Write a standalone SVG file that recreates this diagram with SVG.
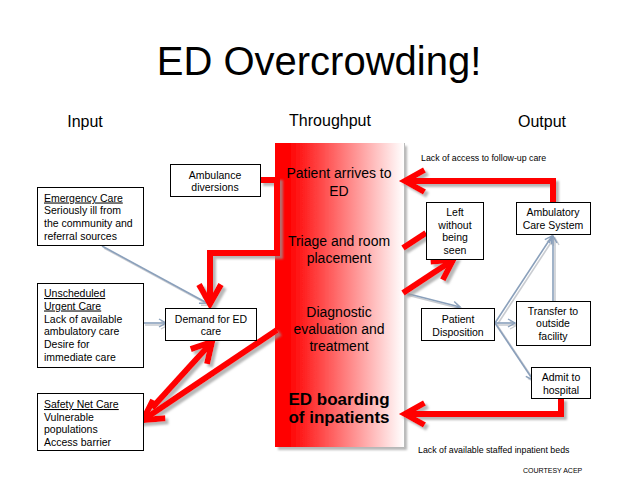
<svg xmlns="http://www.w3.org/2000/svg" width="638" height="479" viewBox="0 0 638 479">
<style>
text{font-family:"Liberation Sans",Arial,sans-serif;fill:#000}
.box rect{fill:#fff;stroke:#000;stroke-width:1}
.bt{font-size:10.5px}
.bc{font-size:10.5px;text-anchor:middle}
.hd{font-size:16px;text-anchor:middle}
.ct{font-size:14px;text-anchor:middle}
.cb{font-size:17px;font-weight:bold;text-anchor:middle}
.sm{font-size:8.8px}
.red{fill:none;stroke:#f00;stroke-width:6;stroke-linejoin:miter}
.blue{fill:none;stroke:#8aa0bb;stroke-width:1.6}
</style>
<defs>
<linearGradient id="grad" x1="0" y1="0" x2="1" y2="0">
<stop offset="0" stop-color="#ff0000"/>
<stop offset="0.12" stop-color="#ff0505"/>
<stop offset="1" stop-color="#ffffff"/>
</linearGradient>
<filter id="shR" x="-20%" y="-20%" width="140%" height="140%">
<feDropShadow dx="3" dy="3" stdDeviation="1" flood-color="#999" flood-opacity="0.7"/>
</filter>
<filter id="shB" x="-20%" y="-20%" width="140%" height="140%">
<feDropShadow dx="2" dy="2" stdDeviation="0.5" flood-color="#c9ccd1" flood-opacity="1"/>
</filter>
<marker id="rh" markerUnits="userSpaceOnUse" viewBox="-30 -20 40 40" markerWidth="40" markerHeight="40" refX="0" refY="0" orient="auto">
<path d="M-19.5,-11 L0,0 L-19.5,11" fill="none" stroke="#f00" stroke-width="6" stroke-linejoin="miter"/>
</marker>
<marker id="bh" markerUnits="userSpaceOnUse" viewBox="-12 -8 16 16" markerWidth="16" markerHeight="16" refX="0" refY="0" orient="auto">
<path d="M-7,-4 L0,0 L-7,4" fill="none" stroke="#8aa0bb" stroke-width="1.4"/>
</marker>
</defs>
<rect width="638" height="479" fill="#fff"/>
<text x="319" y="75" font-size="40" text-anchor="middle">ED Overcrowding!</text>
<text class="hd" x="85" y="127">Input</text>
<text class="hd" x="330" y="126">Throughput</text>
<text class="hd" x="542" y="127">Output</text>

<g id="throughput">
<rect x="275" y="143" width="129" height="304" fill="url(#grad)" filter="url(#shR)"/>
<line x1="404.5" y1="143" x2="404.5" y2="449" stroke="#bbb" stroke-width="1"/>
<text class="ct" x="339" y="178">Patient arrives to</text>
<text class="ct" x="339" y="196">ED</text>
<text class="ct" x="339" y="246">Triage and room</text>
<text class="ct" x="339" y="263">placement</text>
<text class="ct" x="339" y="317">Diagnostic</text>
<text class="ct" x="339" y="334">evaluation and</text>
<text class="ct" x="339" y="351">treatment</text>
<text class="cb" x="339" y="405">ED boarding</text>
<text class="cb" x="339" y="423">of inpatients</text>
</g>

<g id="connectors">
<g filter="url(#shB)">
<line class="blue" x1="102" y1="246" x2="207" y2="303" marker-end="url(#bh)"/>
<line class="blue" x1="143" y1="323" x2="166" y2="323" marker-end="url(#bh)"/>
<line class="blue" x1="405" y1="293" x2="460" y2="307" marker-end="url(#bh)"/>
<line class="blue" x1="495" y1="323" x2="552" y2="236" marker-end="url(#bh)"/>
<line class="blue" x1="495" y1="323" x2="515" y2="323" marker-end="url(#bh)"/>
<line class="blue" x1="495" y1="323" x2="533" y2="380" marker-end="url(#bh)"/>
<line class="blue" x1="553" y1="301" x2="553" y2="236" marker-end="url(#bh)"/>
</g>
<g filter="url(#shR)">
<polyline class="red" points="260,180 277,180 277,253 210,253 210,304" marker-end="url(#rh)"/>
<line class="red" x1="277" y1="330" x2="143" y2="420" marker-end="url(#rh)"/>
<line class="red" x1="152" y1="408" x2="212" y2="342" marker-end="url(#rh)"/>
<polyline class="red" points="553,202 553,181 405,181" marker-end="url(#rh)"/>
<polyline class="red" points="561,398 561,414 405,414" marker-end="url(#rh)"/>
<line class="red" x1="403" y1="248" x2="426" y2="233" stroke-width="5"/>
<line class="red" x1="403" y1="293" x2="453" y2="260" marker-end="url(#rh)"/>
</g>
</g>

<g id="ambulance" class="box">
<rect x="170.5" y="164.5" width="90" height="32"/>
<text class="bc" x="215" y="179">Ambulance</text>
<text class="bc" x="215" y="191">diversions</text>
</g>
<g id="emergency" class="box">
<rect x="37.5" y="187.5" width="106" height="58"/>
<text class="bt" x="44" y="201.5" text-decoration="underline">Emergency Care</text>
<text class="bt" x="44" y="214">Seriously ill from</text>
<text class="bt" x="44" y="227">the community and</text>
<text class="bt" x="44" y="240">referral sources</text>
</g>
<g id="unscheduled" class="box">
<rect x="37.5" y="283.5" width="106" height="84"/>
<text class="bt" x="44" y="297" text-decoration="underline">Unscheduled</text>
<text class="bt" x="44" y="309.5" text-decoration="underline">Urgent Care</text>
<text class="bt" x="44" y="322.5">Lack of available</text>
<text class="bt" x="44" y="335">ambulatory care</text>
<text class="bt" x="44" y="348">Desire for</text>
<text class="bt" x="44" y="361">immediate care</text>
</g>
<g id="safetynet" class="box">
<rect x="37.5" y="393.5" width="106" height="57"/>
<text class="bt" x="44" y="408" text-decoration="underline">Safety Net Care</text>
<text class="bt" x="44" y="420.5">Vulnerable</text>
<text class="bt" x="44" y="433">populations</text>
<text class="bt" x="44" y="446">Access barrier</text>
</g>
<g id="demand" class="box">
<rect x="165.5" y="308.5" width="91" height="32"/>
<text class="bc" x="211" y="323">Demand for ED</text>
<text class="bc" x="211" y="335">care</text>
</g>
<g id="lwbs" class="box">
<rect x="426.5" y="202.5" width="57" height="57"/>
<text class="bc" x="455" y="216">Left</text>
<text class="bc" x="455" y="228.5">without</text>
<text class="bc" x="455" y="241">being</text>
<text class="bc" x="455" y="253.5">seen</text>
</g>
<g id="ambulatory" class="box">
<rect x="516.5" y="202.5" width="74" height="32"/>
<text class="bc" x="553" y="216">Ambulatory</text>
<text class="bc" x="553" y="228.5">Care System</text>
</g>
<g id="disposition" class="box">
<rect x="421.5" y="308.5" width="73" height="32"/>
<text class="bc" x="458" y="323">Patient</text>
<text class="bc" x="458" y="335.5">Disposition</text>
</g>
<g id="transfer" class="box">
<rect x="516.5" y="301.5" width="74" height="44"/>
<text class="bc" x="553" y="314.5">Transfer to</text>
<text class="bc" x="553" y="327">outside</text>
<text class="bc" x="553" y="339.5">facility</text>
</g>
<g id="admit" class="box">
<rect x="531.5" y="367.5" width="59" height="31"/>
<text class="bc" x="561" y="381">Admit to</text>
<text class="bc" x="561" y="393.5">hospital</text>
</g>

<text class="sm" x="421" y="160.5">Lack of access to follow-up care</text>
<text class="sm" x="418" y="453">Lack of available staffed inpatient beds</text>
<text x="523" y="473" font-size="7">COURTESY ACEP</text>
</svg>
